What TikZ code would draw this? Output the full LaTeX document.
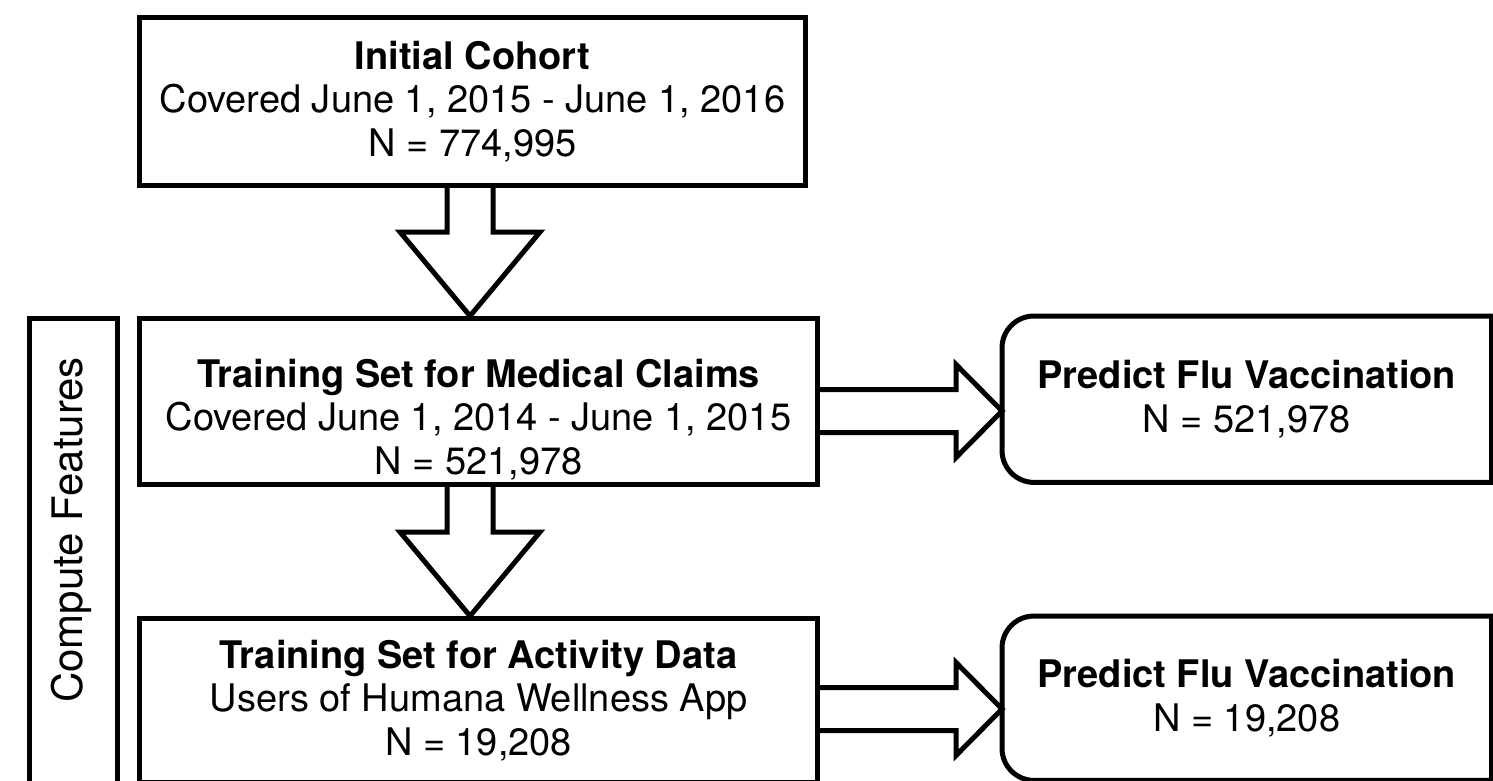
\documentclass[tikz,border=0pt]{standalone}
\usepackage{fontspec}
\setmainfont{TeX Gyre Heros}
\usetikzlibrary{calc}
\tikzset{
  box/.style={draw, line width=5pt, inner sep=0pt, anchor=north west},
  frame/.style={inner sep=0pt, anchor=north west},
  txt/.style={align=center, inner sep=0pt, font=\fontsize{38}{43.5}\selectfont},
  sidetxt/.style={inner sep=0pt, rotate=90, font=\fontsize{42}{48}\selectfont},
  blockarrow/.style={draw, line width=5pt, line join=miter},
  roundside/.style={line width=5pt, line cap=rect},
}
\begin{document}
\begin{tikzpicture}[x=1pt, y=-1pt]
\clip (0,0) rectangle (1493,781);
\fill[white] (0,0) rectangle (1493,781);

% rectangular stages
\node[box, minimum width=666, minimum height=168] (cohort) at (137,15) {};
\node[box, minimum width=678, minimum height=166] (medical) at (137,316) {};
\node[box, minimum width=678, minimum height=164] (activity) at (137,616) {};
\node[box, minimum width=88, minimum height=520] (features) at (27,316) {};

\node[txt] (cohortT) at (cohort.center) {\textbf{Initial Cohort}\\Covered June 1, 2015 - June 1, 2016\\N = 774,995};
\node[txt] (medicalT) at ($(medical.center)+(0,18)$) {\textbf{Training Set for Medical Claims}\\Covered June 1, 2014 - June 1, 2015\\N = 521,978};
\node[txt] (activityT) at (activity.center) {\textbf{Training Set for Activity Data}\\Users of Humana Wellness App\\N = 19,208};
\node[sidetxt] (featuresT) at (71,530) {Compute Features};

% prediction boxes, rounded on the left
\node[frame, minimum width=489, minimum height=166] (predA) at (1002,316) {};
\node[frame, minimum width=489, minimum height=164] (predB) at (1002,616) {};
\foreach \p in {predA,predB}{
  \draw[roundside, rounded corners=32pt] (\p.north east) -- (\p.north west) -- (\p.south west) -- (\p.south east);
  \draw[roundside] (\p.south east) -- (\p.north east);
}
\node[txt] (predAT) at (predA.center) {\textbf{Predict Flu Vaccination}\\N = 521,978};
\node[txt] (predBT) at (predB.center) {\textbf{Predict Flu Vaccination}\\N = 19,208};

% block arrows
\coordinate (downx) at (470,0);
\coordinate (rowA) at (0,411);
\coordinate (rowB) at (0,709);

\path (cohort.south -| downx) coordinate (d1s) (medical.north -| downx) coordinate (d1e);
\path (medical.south -| downx) coordinate (d2s) (activity.north -| downx) coordinate (d2e);
\foreach \s/\e in {d1s/d1e, d2s/d2e}{
  \draw[blockarrow] ($(\s)+(-23,0)$) -- ($(\e)+(-23,-84)$) -- ($(\e)+(-70,-84)$) -- (\e)
    -- ($(\e)+(70,-84)$) -- ($(\e)+(23,-84)$) -- ($(\s)+(23,0)$);
}

\path (medical.east |- rowA) coordinate (r1s) (predA.west |- rowA) coordinate (r1e);
\path (activity.east |- rowB) coordinate (r2s) (predB.west |- rowB) coordinate (r2e);
\foreach \s/\e in {r1s/r1e, r2s/r2e}{
  \draw[blockarrow] ($(\s)+(0,-21.5)$) -- ($(\e)+(-46,-21.5)$) -- ($(\e)+(-46,-46.5)$) -- (\e)
    -- ($(\e)+(-46,46.5)$) -- ($(\e)+(-46,21.5)$) -- ($(\s)+(0,21.5)$);
}
\end{tikzpicture}
\end{document}
